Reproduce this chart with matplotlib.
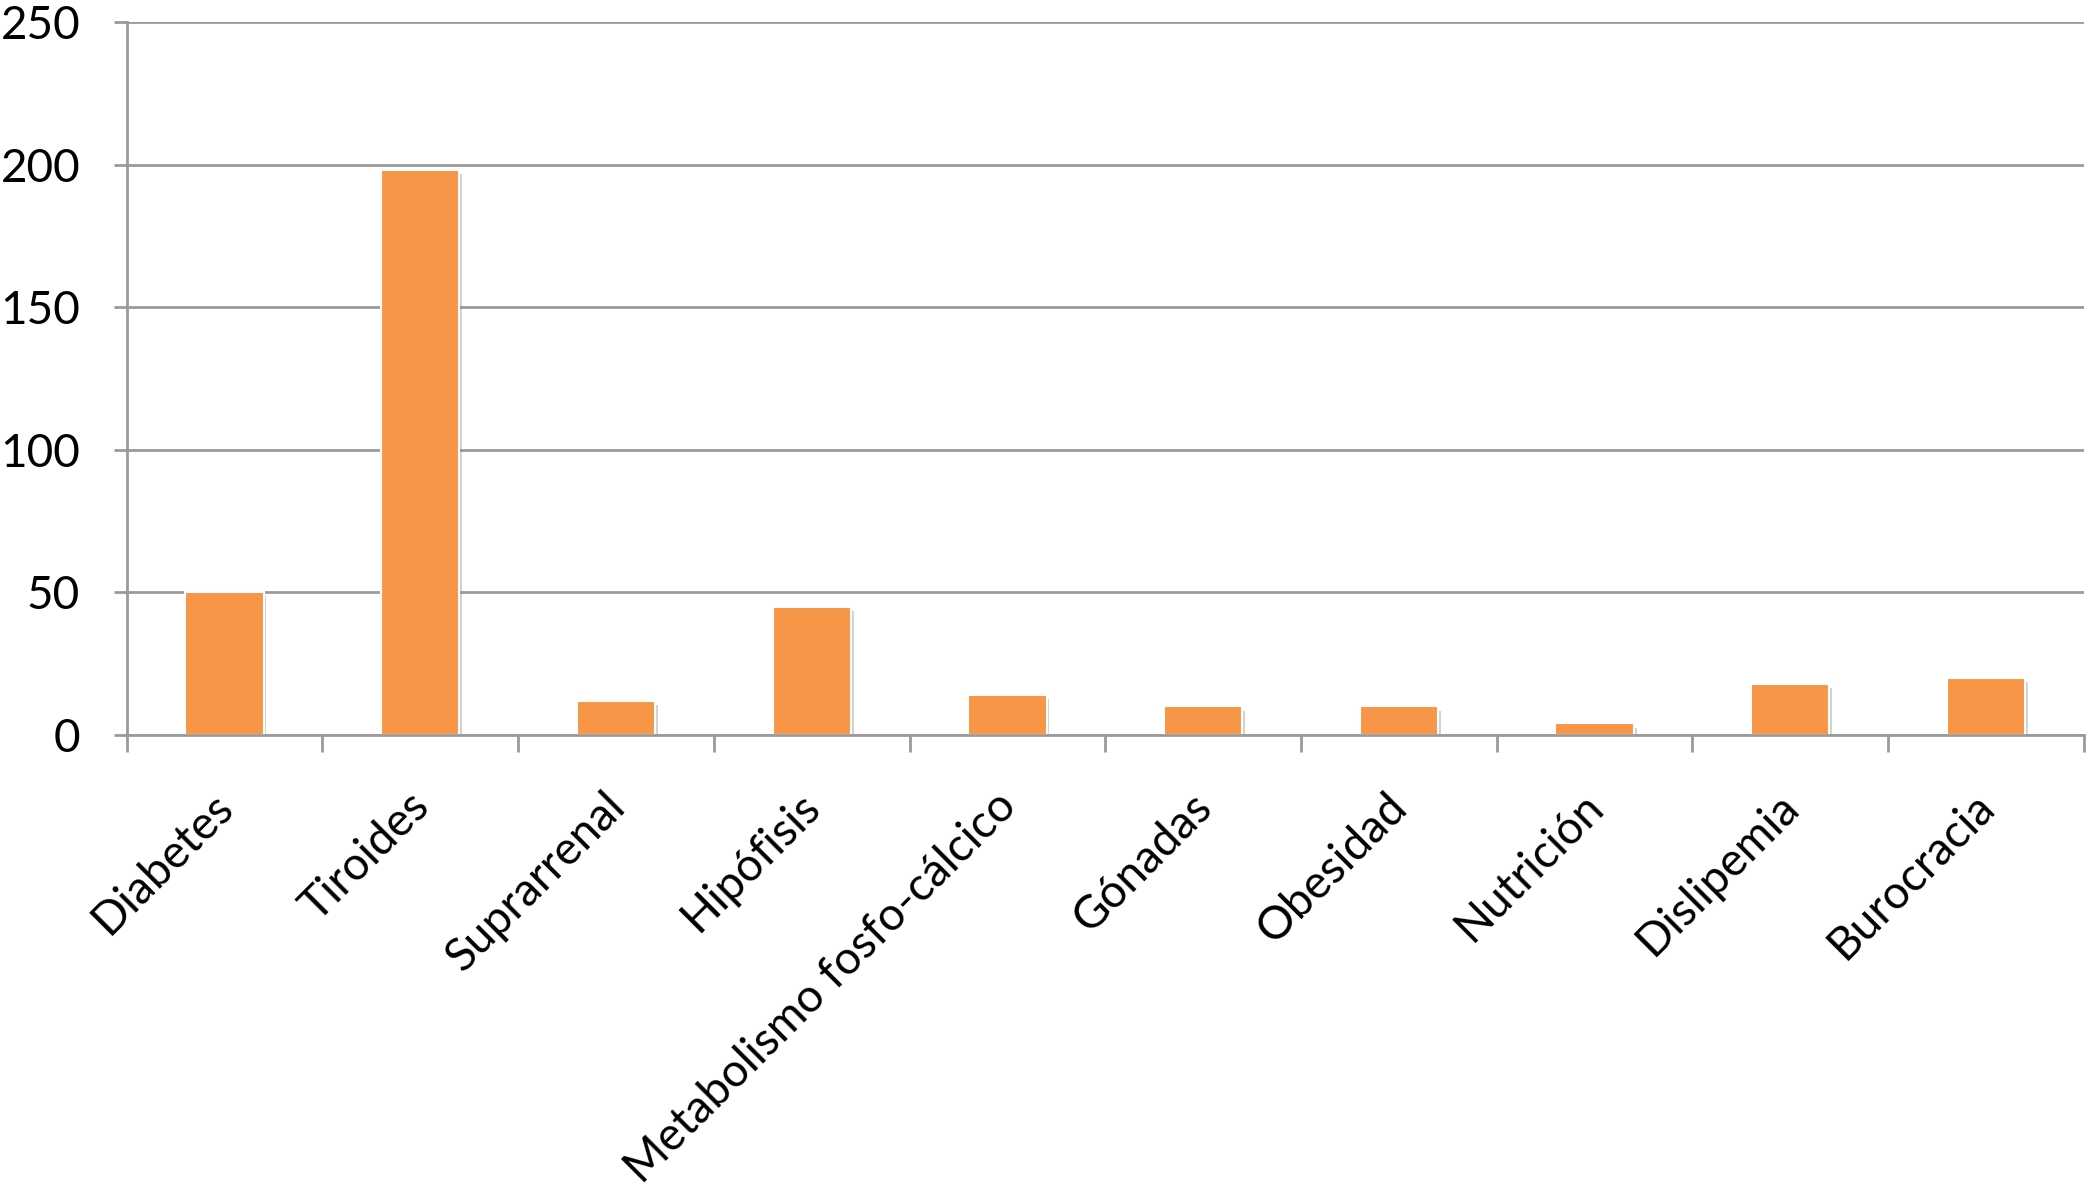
import matplotlib.pyplot as plt
import matplotlib.patheffects as pe
import matplotlib.transforms as mtransforms
import numpy as np

categories = ['Diabetes', 'Tiroides', 'Suprarrenal', 'Hipófisis',
              'Metabolismo fosfo-cálcico', 'Gónadas', 'Obesidad',
              'Nutrición', 'Dislipemia', 'Burocracia']
values = [50, 198, 12, 45, 14, 10, 10, 4, 18, 20]
y_ticks = [0, 50, 100, 150, 200, 250]

plt.rcParams['font.family'] = ['Lato', 'DejaVu Sans']

fig = plt.figure(figsize=(20.91, 11.91), dpi=100)
ax = fig.add_axes([0.0606, 0.383, 0.936, 0.5985])

x = np.arange(len(categories))
grid_color = '#9a9a9a'

# gridlines behind bars
for t in y_ticks:
    ax.axhline(t, color=grid_color, lw=2.0, zorder=0)

bars = ax.bar(x, values, width=0.4, color='#f79646', edgecolor='white',
              linewidth=1.5, zorder=2)
for b in bars:
    b.set_path_effects([pe.SimplePatchShadow(offset=(2, -3), shadow_rgbFace='#808080', alpha=0.35),
                        pe.Normal()])

ax.set_xlim(-0.5, len(categories) - 0.5)
ax.set_ylim(0, 250)

# y axis
ax.set_yticks(y_ticks)
ax.tick_params(axis='y', length=9.5, width=2.0, color=grid_color, pad=24, labelsize=33)

# x axis: marks at category boundaries, labels at centres
ax.set_xticks(np.arange(-0.5, len(categories)), minor=False)
ax.set_xticklabels([])
ax.tick_params(axis='x', which='major', length=12, width=2.0, color=grid_color)
ax.set_xticks(x, minor=True)
ax.set_xticklabels(categories, minor=True, rotation=45, ha='right',
                   rotation_mode='anchor', fontsize=33)
ax.tick_params(axis='x', which='minor', length=0, pad=36)

# nudge the rotated labels a little to the left
shift = mtransforms.ScaledTranslation(-13 / 100, 0, fig.dpi_scale_trans)
for lbl in ax.get_xticklabels(minor=True):
    lbl.set_transform(lbl.get_transform() + shift)

for side in ['top', 'right']:
    ax.spines[side].set_visible(False)
ax.spines['left'].set_color(grid_color)
ax.spines['left'].set_linewidth(2.0)
ax.spines['bottom'].set_color(grid_color)
ax.spines['bottom'].set_linewidth(2.0)
ax.spines['left'].set_zorder(1)

fig.savefig('out.png', dpi=100)
